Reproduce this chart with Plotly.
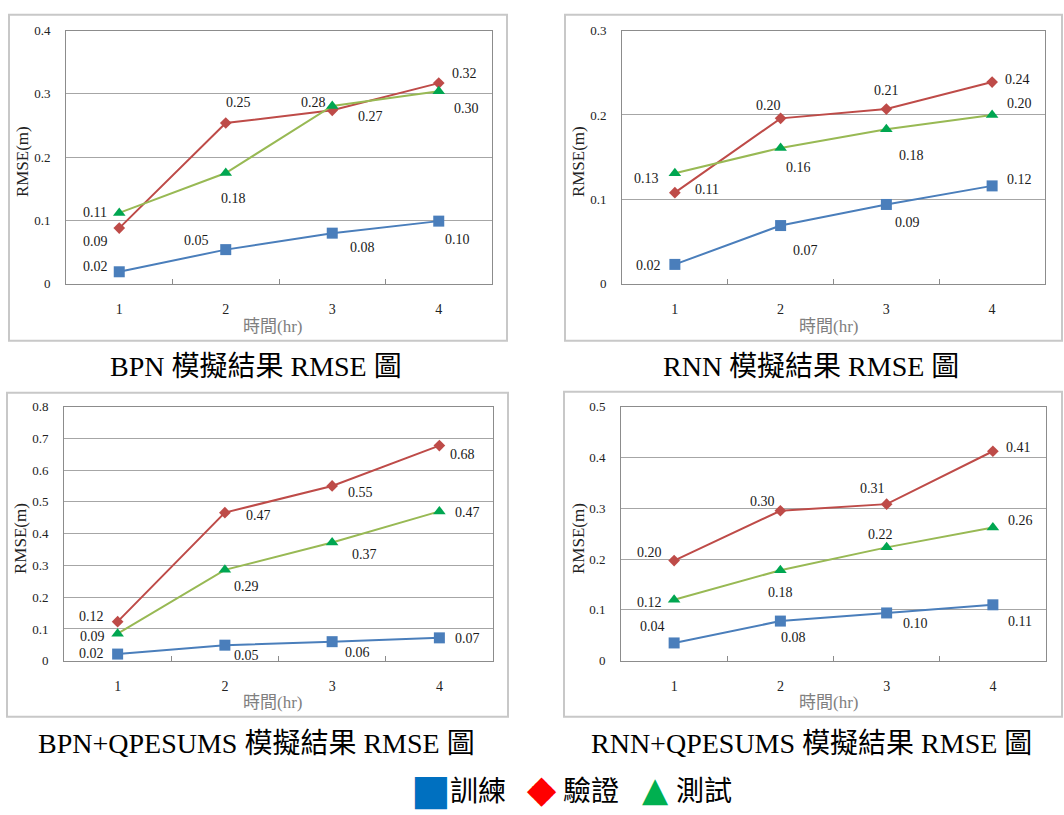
import plotly.graph_objects as go

W, H = 1064, 815

hours = ["1", "2", "3", "4"]
series_names = ["訓練", "驗證", "測試"]

# ---- BPN ----
bpn_train = [0.019, 0.054, 0.080, 0.099]
bpn_valid = [0.088, 0.254, 0.274, 0.317]
bpn_test = [0.112, 0.175, 0.281, 0.304]
bpn_train_lbl = ["0.02", "0.05", "0.08", "0.10"]
bpn_valid_lbl = ["0.09", "0.25", "0.27", "0.32"]
bpn_test_lbl = ["0.11", "0.18", "0.28", "0.30"]

# ---- RNN ----
rnn_train = [0.023, 0.069, 0.094, 0.116]
rnn_valid = [0.108, 0.196, 0.207, 0.239]
rnn_test = [0.131, 0.161, 0.183, 0.200]
rnn_train_lbl = ["0.02", "0.07", "0.09", "0.12"]
rnn_valid_lbl = ["0.11", "0.20", "0.21", "0.24"]
rnn_test_lbl = ["0.13", "0.16", "0.18", "0.20"]

# ---- BPN+QPESUMS ----
bq_train = [0.021, 0.049, 0.060, 0.072]
bq_valid = [0.123, 0.466, 0.550, 0.677]
bq_test = [0.085, 0.286, 0.372, 0.470]
bq_train_lbl = ["0.02", "0.05", "0.06", "0.07"]
bq_valid_lbl = ["0.12", "0.47", "0.55", "0.68"]
bq_test_lbl = ["0.09", "0.29", "0.37", "0.47"]

# ---- RNN+QPESUMS ----
rq_train = [0.035, 0.078, 0.094, 0.110]
rq_valid = [0.197, 0.295, 0.308, 0.412]
rq_test = [0.120, 0.178, 0.223, 0.262]
rq_train_lbl = ["0.04", "0.08", "0.10", "0.11"]
rq_valid_lbl = ["0.20", "0.30", "0.31", "0.41"]
rq_test_lbl = ["0.12", "0.18", "0.22", "0.26"]

captions = ["BPN 模擬結果 RMSE 圖", "RNN 模擬結果 RMSE 圖",
            "BPN+QPESUMS 模擬結果 RMSE 圖", "RNN+QPESUMS 模擬結果 RMSE 圖"]
y_max = [0.4, 0.3, 0.8, 0.5]

# ---- styles / layout (pixels) ----
SERIF = "Liberation Serif, Noto Sans CJK TC, serif"
CJK = "Noto Sans CJK TC, Liberation Serif, serif"
line_colors = ["#4A7EBB", "#BE4B48", "#98B954"]
marker_colors = ["#4A7EBB", "#BE4B48", "#00A651"]
marker_symbols = ["square", "diamond", "triangle-up"]
marker_sizes = [11, 9, 11]

plot_px = [(66, 492, 24, 282), (622, 1045, 24, 282),
           (64, 493, 407, 666), (621, 1046, 407, 666)]
frame_px = [(9, 507, 8, 340), (565, 1062, 8, 340),
            (7, 508, 393, 723), (564, 1062, 392, 723)]
caption_px = [(256, 366), (811, 366), (256, 750), (811, 750)]
ytitle_px = [(22, 158), (578, 158), (20, 542), (578, 542)]
xtitle_px = [(272, 325), (828, 325), (272, 709), (828, 709)]

# label offsets (dx right, dy down) in pixels, per panel/series/point
offsets = [
    [[(-24, -5), (-29, -9), (30, 14), (19, 18)],
     [(-24, 13), (13, -20), (38, 6), (26, -10)],
     [(-24, 0), (8, 25), (-19, -3), (28, 17)]],
    [[(-26, 1), (25, 25), (21, 18), (27, -6)],
     [(32, -3), (-12, -13), (0, -19), (25, -3)],
     [(-28, 5), (18, 20), (25, 26), (27, -11)]],
    [[(-26, -1), (22, 10), (25, 11), (28, 1)],
     [(-26, -5), (34, 3), (28, 7), (23, 9)],
     [(-25, 3), (22, 17), (32, 12), (28, 1)]],
    [[(-22, -16), (13, 16), (29, 11), (27, 17)],
     [(-25, -8), (-18, -9), (-14, -16), (26, -4)],
     [(-25, 3), (0, 22), (-6, -13), (28, -7)]],
]

panels = [
    ([bpn_train, bpn_valid, bpn_test], [bpn_train_lbl, bpn_valid_lbl, bpn_test_lbl]),
    ([rnn_train, rnn_valid, rnn_test], [rnn_train_lbl, rnn_valid_lbl, rnn_test_lbl]),
    ([bq_train, bq_valid, bq_test], [bq_train_lbl, bq_valid_lbl, bq_test_lbl]),
    ([rq_train, rq_valid, rq_test], [rq_train_lbl, rq_valid_lbl, rq_test_lbl]),
]


def px(x):
    return x / W


def py(y):
    return 1 - y / H


def paper_note(x, y, text, font, **kw):
    return dict(x=px(x), y=py(y), xref="paper", yref="paper", text=text,
                showarrow=False, xanchor="center", yanchor="middle",
                font=font, **kw)


fig = go.Figure()
annotations = []
shapes = []
layout_axes = {}

for i, (vals, lbls) in enumerate(panels):
    n = "" if i == 0 else str(i + 1)
    xa, ya = "x" + n, "y" + n
    x0, x1, y0, y1 = plot_px[i]
    for s in range(3):
        fig.add_trace(go.Scatter(
            x=hours, y=vals[s], mode="lines+markers", name=series_names[s],
            xaxis=xa, yaxis=ya, showlegend=False, cliponaxis=False,
            line=dict(color=line_colors[s], width=2),
            marker=dict(symbol=marker_symbols[s], size=marker_sizes[s],
                        color=marker_colors[s], line=dict(width=0)),
        ))
        for k in range(4):
            dx, dy = offsets[i][s][k]
            annotations.append(dict(
                x=k, y=vals[s][k], xref=xa, yref=ya, text=lbls[s][k],
                showarrow=False, xshift=dx, yshift=-dy,
                xanchor="center", yanchor="middle",
                font=dict(family=SERIF, size=14, color="#1a1a1a"),
            ))
    layout_axes["xaxis" + n] = dict(
        domain=[px(x0), px(x1)], anchor=ya, type="category",
        categoryorder="array", categoryarray=hours, range=[-0.5, 3.5],
        tickson="boundaries", ticks="inside", ticklen=5, tickcolor="#8c8c8c",
        showgrid=False, showline=True, linecolor="#8c8c8c", linewidth=1,
        mirror=True, ticklabelstandoff=12,
        tickfont=dict(family=SERIF, size=14, color="#222"),
        fixedrange=True,
    )
    layout_axes["yaxis" + n] = dict(
        domain=[py(y1), py(y0)], anchor=xa, range=[0, y_max[i]], dtick=0.1,
        showgrid=True, gridcolor="#a6a6a6", gridwidth=1,
        showline=True, linecolor="#8c8c8c", linewidth=1, mirror=True,
        zeroline=False, ticks="", ticklabelstandoff=12,
        tickfont=dict(family=SERIF, size=13, color="#222"),
        fixedrange=True,
    )
    fx0, fx1, fy0, fy1 = frame_px[i]
    shapes.append(dict(type="rect", xref="paper", yref="paper",
                       x0=px(fx0), x1=px(fx1), y0=py(fy1), y1=py(fy0),
                       line=dict(color="#c8c8c8", width=2), layer="below"))
    tx, ty = ytitle_px[i]
    annotations.append(paper_note(tx, ty, "RMSE(m)",
                                  dict(family=SERIF, size=17, color="#222"),
                                  textangle=-90))
    tx, ty = xtitle_px[i]
    annotations.append(paper_note(tx, ty, "時間(hr)",
                                  dict(family=SERIF, size=17, color="#808080")))
    cx, cy = caption_px[i]
    annotations.append(paper_note(cx, cy, captions[i],
                                  dict(family=SERIF, size=28, color="#000")))

# bottom legend
legend_items = [("■", "#0070C0", 431, 42), ("◆", "#FF0000", 542, 38), ("▲", "#00B050", 655, 34)]
legend_text_x = [478, 591, 704]
for (sym, col, sx, sz), name, tx in zip(legend_items, series_names, legend_text_x):
    annotations.append(paper_note(sx, 797, sym,
                                  dict(family="DejaVu Sans", size=sz, color=col)))
    annotations.append(paper_note(tx, 797, name,
                                  dict(family=CJK, size=28, color="#000")))

fig.update_layout(
    width=W, height=H, margin=dict(l=0, r=0, t=0, b=0),
    paper_bgcolor="white", plot_bgcolor="white",
    annotations=annotations, shapes=shapes, showlegend=False,
    **layout_axes,
)

fig.write_html("out.html", config={"displayModeBar": False},
               post_script="document.body.style.margin='0px';"
                           "document.body.style.overflow='hidden';")
